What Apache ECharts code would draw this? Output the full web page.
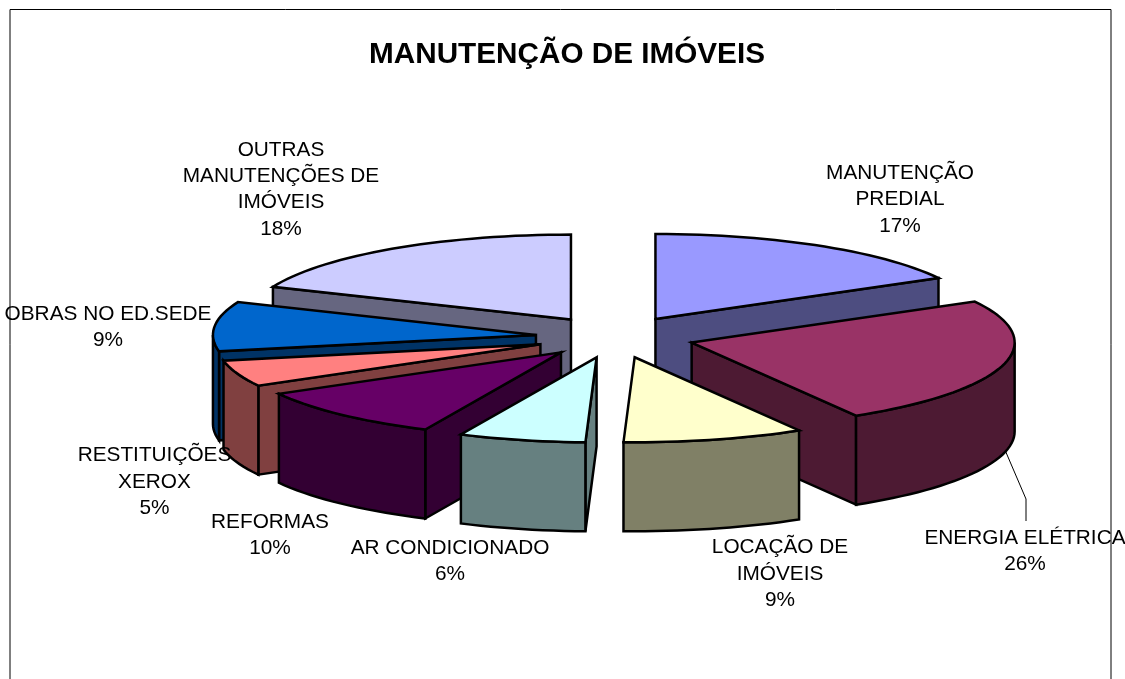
<!DOCTYPE html>
<html><head><meta charset="utf-8">
<style>html,body{margin:0;padding:0;background:#fff;overflow:hidden}#c{width:1125px;height:679px}</style>
<script src="https://cdn.jsdelivr.net/npm/echarts@6/dist/echarts.min.js"></script>
</head><body><div id="c"></div>
<script>
// Data
const chartTitle = 'MANUTENÇÃO DE IMÓVEIS';
const categories = ['MANUTENÇÃO\nPREDIAL','ENERGIA ELÉTRICA','LOCAÇÃO DE\nIMÓVEIS','AR CONDICIONADO','REFORMAS','RESTITUIÇÕES\nXEROX','OBRAS NO ED.SEDE','OUTRAS\nMANUTENÇÕES DE\nIMÓVEIS'];
const printedPercents = [17, 26, 9, 6, 10, 5, 9, 18];
// Share of the circle each slice occupies as measured on the drawing
const sliceShares = [17, 24.5, 9.05, 6.35, 10, 5, 9.4, 18.7];

// Layout and style, kept apart from the data
const topColors  = ['#9999FF','#993366','#FFFFCC','#CCFFFF','#660066','#FF8080','#0066CC','#CCCCFF'];
const wallColors = ['#4D4D80','#4D1A33','#808066','#668080','#330033','#804040','#003366','#666680'];
const paintOrder = [7,0,6,5,4,1,2,3];
const labelCentres = [[900,199.5],[1025,551],[780,574],[450,561],[270,535],[154.5,482],[108,327.5],[281,189.5]];
const pie = {cx:615, cy:337, rx:323, ry:85, depth:89, explode:0.246};
const FONT = '"Liberation Sans", Arial, sans-serif';

const rad = d => d * Math.PI / 180;
const total = sliceShares.reduce((a,b)=>a+b,0);
const starts = [];
sliceShares.reduce((acc,v,i)=>{starts[i]=acc; return acc + v/total*360;},0);
const ends = sliceShares.map((v,i)=>starts[i]+v/total*360);

function arc(a0,a1,ox,oy,dz){
  const n = Math.max(2,Math.ceil(Math.abs(a1-a0)/2)), pts=[];
  for(let k=0;k<=n;k++){
    const a = rad(a0+(a1-a0)*k/n);
    pts.push([ox+pie.rx*Math.sin(a), oy-pie.ry*Math.cos(a)+dz]);
  }
  return pts;
}
function poly(points,fill){
  return {type:'polygon',shape:{points},style:{fill,stroke:'#000',lineWidth:2.5,lineJoin:'miter'}};
}
function renderSlice(params,api){
  const i = api.value(0), a0=starts[i], a1=ends[i], mid=rad((a0+a1)/2);
  const ox = pie.cx+pie.explode*pie.rx*Math.sin(mid);
  const oy = pie.cy-pie.explode*pie.ry*Math.cos(mid);
  const d = pie.depth, kids=[];
  const radial = a => {
    const p = arc(a,a,ox,oy,0)[0];
    return poly([[ox,oy],p,[p[0],p[1]+d],[ox,oy+d]],wallColors[i]);
  };
  if(a0>180 && a0<360) kids.push(radial(a0));
  if(a1>0 && a1<180) kids.push(radial(a1));
  const w0=Math.max(a0,90), w1=Math.min(a1,270);
  if(w1>w0){
    kids.push(poly(arc(w0,w1,ox,oy,0).concat(arc(w1,w0,ox,oy,d)),wallColors[i]));
  }
  kids.push(poly([[ox,oy]].concat(arc(a0,a1,ox,oy,0)),topColors[i]));
  return {type:'group',children:kids};
}
function renderLabel(params,api){
  const i = api.value(0);
  return {type:'text',style:{
    text:categories[i]+'\n'+printedPercents[i]+'%',
    x:labelCentres[i][0],y:labelCentres[i][1],
    align:'center',verticalAlign:'middle',
    font:'20.8px '+FONT,lineHeight:26.3,fill:'#000'}};
}
const chart = echarts.init(document.getElementById('c'),null,{renderer:'canvas'});
chart.setOption({
  animation:false,
  backgroundColor:'#fff',
  title:{text:chartTitle,left:562,top:35,textAlign:'center',
    textStyle:{fontFamily:FONT,fontWeight:'bold',fontSize:29.7,color:'#000'}},
  graphic:[
    {type:'rect',z:0,shape:{x:10,y:9.5,width:1101,height:720},style:{fill:'none',stroke:'#000',lineWidth:1}},
    {type:'polyline',z:1,shape:{points:[[1005,450],[1026,499],[1026,521]]},style:{fill:'none',stroke:'#000',lineWidth:1}}
  ],
  series:[
    {type:'custom',coordinateSystem:'none',z:5,silent:true,renderItem:renderSlice,data:paintOrder.map(i=>[i])},
    {type:'custom',coordinateSystem:'none',z:6,silent:true,renderItem:renderLabel,data:categories.map((c,i)=>[i])}
  ]
});
</script></body></html>
